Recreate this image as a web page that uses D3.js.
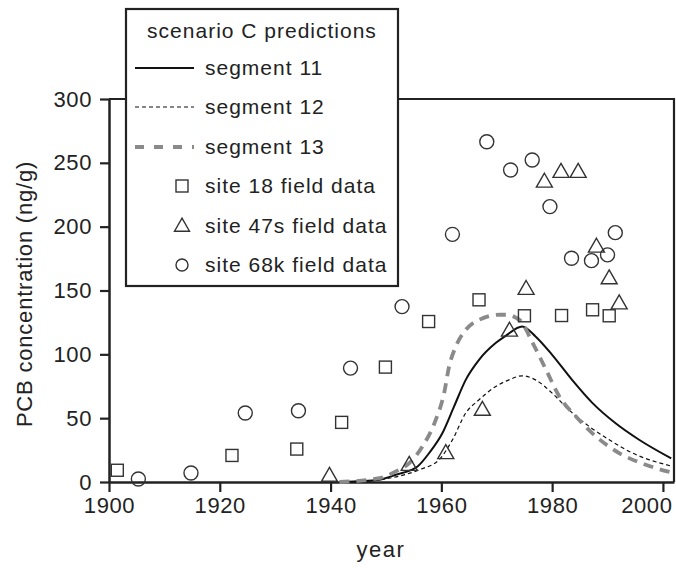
<!DOCTYPE html>
<meta charset="utf-8" />
<script src="https://d3js.org/d3.v7.min.js"></script>
<style>
	body { margin: 0; background: #fff; }
	text { font-family: "Liberation Sans", Arial, sans-serif; fill: #222; }
</style>
<div id="chart"></div>
<script>
	// ---- data ----
	var xTicks = [1900, 1920, 1940, 1960, 1980, 2000];
	var yTicks = [0, 50, 100, 150, 200, 250, 300];

	// model predictions: [year, ng/g]
	var seg11 = [[1942, 0], [1948.8, 1.8], [1951.8, 5.7], [1955.7, 12.2], [1957.8, 22.7], [1960.2, 38.4],
		[1962.3, 59.2], [1964.4, 80], [1966.8, 95.7], [1969.8, 108.8], [1971.6, 114.5], [1974.6, 121.8],
		[1977, 114], [1980, 99.6], [1983.6, 80], [1987.3, 61.8], [1991.4, 46.2], [1995.7, 33.1], [2001.5, 18.5]];
	var seg12 = [[1944, 0], [1950, 2.5], [1956, 9.6], [1959.6, 17.5], [1962, 33], [1964.4, 54], [1966.8, 64.4],
		[1969.8, 74.8], [1972.2, 80], [1974.6, 83.2], [1977, 80], [1980, 69.6], [1983, 56.6],
		[1986.7, 43.5], [1990.3, 33.1], [1994.5, 22.7], [2001.5, 12.5]];
	var seg13 = [[1941.6, 0], [1948.8, 3], [1951.8, 8.3], [1954.2, 14.8], [1956.6, 27.9], [1959, 48.8],
		[1960.5, 69.6], [1961.4, 90.5], [1962.6, 106], [1964.4, 119.2], [1966.8, 127], [1970.5, 131],
		[1971.6, 131], [1974.1, 127], [1976.5, 108.8], [1978.9, 87.9], [1981.3, 67], [1984.3, 51.3],
		[1987.9, 35.7], [1992.1, 22.7], [1996.9, 13.5], [2001.5, 7.5]];

	// field data: [year, ng/g]
	var site18 = [[1901.5, 9.2], [1922.2, 20.8], [1933.9, 25.8], [1942, 46.7], [1949.9, 90], [1957.7, 125.7],
		[1966.8, 142.7], [1975, 130.2], [1981.7, 130.4], [1987.3, 134.9], [1990.3, 130.2]];
	var site47s = [[1939.8, 4.9], [1954.2, 13.5], [1960.8, 22.7], [1967.4, 56.6], [1972.3, 118.6], [1975.3, 151.3],
		[1978.6, 235.3], [1981.6, 243], [1984.7, 243], [1988, 184.4], [1990.3, 159.6], [1992.1, 140]];
	var site68k = [[1905.3, 2.3], [1914.8, 7], [1924.6, 54], [1934.2, 55.8], [1943.6, 89.2], [1952.9, 137.4],
		[1962, 194], [1968.2, 266.5], [1972.5, 244.4], [1976.4, 252.2], [1979.6, 215.7], [1983.5, 175.3],
		[1987.1, 173.4], [1990, 177.9], [1991.4, 195.3]];

	var legendTitle = "scenario C predictions";
	var legendItems = ["segment 11", "segment 12", "segment 13",
		"site 18 field data", "site 47s field data", "site 68k field data"];

	// ---- layout ----
	var W = 676, H = 568;
	var margin = { top: 99, right: 2, bottom: 86, left: 109 },
		width = W - margin.left - margin.right,
		height = H - margin.top - margin.bottom;

	var root = d3.select("#chart").append("svg")
		.attr("width", W)
		.attr("height", H);

	var svg = root.append("g")
		.attr("transform", "translate(" + margin.left + "," + margin.top + ")");

	var x = d3.scaleLinear().domain([1900, 2002]).range([0, width]);
	var y = d3.scaleLinear().domain([0, 300]).range([height, 0]);

	var ink = "#222";

	// frame (top + right)
	svg.append("path")
		.attr("d", "M0,0H" + width + "V" + height)
		.attr("fill", "none")
		.attr("stroke", ink)
		.attr("stroke-width", 2.2);

	// axes
	var xAxis = svg.append("g")
		.attr("transform", "translate(0," + height + ")")
		.call(d3.axisBottom(x).tickValues(xTicks).tickFormat(d3.format("d")).tickSize(10).tickSizeOuter(0).tickPadding(5));
	var yAxis = svg.append("g")
		.call(d3.axisLeft(y).tickValues(yTicks).tickSize(9).tickSizeOuter(0).tickPadding(8));

	[xAxis, yAxis].forEach(function (a) {
		a.select(".domain").attr("stroke", ink).attr("stroke-width", 2.5);
		a.selectAll(".tick line").attr("stroke", ink).attr("stroke-width", 2.2);
		a.selectAll(".tick text")
			.style("font-family", '"Liberation Sans", Arial, sans-serif')
			.style("font-size", "22px")
			.style("letter-spacing", "0.6px")
			.attr("fill", ink);
	});

	// last year label sits inside the frame edge
	xAxis.selectAll(".tick text")
		.filter(d => d === 2000)
		.attr("text-anchor", "end")
		.attr("x", width - 2 - x(2000));

	// axis labels
	root.append("text")
		.attr("x", 381)
		.attr("y", 557)
		.attr("text-anchor", "middle")
		.style("font-size", "22px")
		.style("letter-spacing", "1.5px")
		.text("year");

	root.append("text")
		.attr("transform", "translate(32," + 294 + ") rotate(-90)")
		.attr("text-anchor", "middle")
		.style("font-size", "22px")
		.style("letter-spacing", "0.8px")
		.text("PCB concentration (ng/g)");

	// curves
	var line = d3.line()
		.x(d => x(d[0]))
		.y(d => y(d[1]))
		.curve(d3.curveMonotoneX);

	var lineStyles = [
		{ data: seg11, stroke: "#111", width: 2, dash: null },
		{ data: seg12, stroke: "#111", width: 1.2, dash: "4,3" },
		{ data: seg13, stroke: "#8a8a8a", width: 3.8, dash: "10,7" }
	];

	lineStyles.forEach(function (s) {
		svg.append("path")
			.datum(s.data)
			.attr("d", line)
			.attr("fill", "none")
			.attr("stroke", s.stroke)
			.attr("stroke-width", s.width)
			.attr("stroke-dasharray", s.dash);
	});

	// markers
	var mStroke = "#333";
	function square(g, cx, cy, s) {
		g.append("rect")
			.attr("x", cx - s / 2).attr("y", cy - s / 2)
			.attr("width", s).attr("height", s)
			.attr("fill", "none").attr("stroke", mStroke).attr("stroke-width", 1.4);
	}
	function triangle(g, cx, cy, s) {
		var h = s * 0.87;
		g.append("path")
			.attr("d", "M" + cx + "," + (cy - h * 0.6) + "L" + (cx + s / 2) + "," + (cy + h * 0.4) + "L" + (cx - s / 2) + "," + (cy + h * 0.4) + "Z")
			.attr("fill", "none").attr("stroke", mStroke).attr("stroke-width", 1.4);
	}
	function circle(g, cx, cy, s) {
		g.append("circle")
			.attr("cx", cx).attr("cy", cy).attr("r", s / 2)
			.attr("fill", "none").attr("stroke", mStroke).attr("stroke-width", 1.4);
	}

	var pts = svg.append("g");
	site18.forEach(d => square(pts, x(d[0]), y(d[1]), 12));
	site47s.forEach(d => triangle(pts, x(d[0]), y(d[1]), 16));
	site68k.forEach(d => circle(pts, x(d[0]), y(d[1]), 14));

	// legend
	var lg = root.append("g");
	lg.append("rect")
		.attr("x", 126).attr("y", 9)
		.attr("width", 272).attr("height", 277)
		.attr("fill", "#fff")
		.attr("stroke", ink)
		.attr("stroke-width", 2.2);

	lg.append("text")
		.attr("x", 262).attr("y", 31)
		.attr("text-anchor", "middle")
		.attr("dy", "0.35em")
		.style("font-size", "21px")
		.style("letter-spacing", "1px")
		.text(legendTitle);

	var rowY = [68, 107, 147, 186, 226, 265];
	legendItems.forEach(function (name, i) {
		var ry = rowY[i];
		if (i < 3) {
			var s = lineStyles[i];
			lg.append("line")
				.attr("x1", 135).attr("x2", 194)
				.attr("y1", ry).attr("y2", ry)
				.attr("stroke", s.stroke)
				.attr("stroke-width", s.width)
				.attr("stroke-dasharray", i === 2 ? "9,10" : s.dash);
		} else if (i === 3) {
			square(lg, 182, ry, 12);
		} else if (i === 4) {
			triangle(lg, 182, ry, 15);
		} else {
			circle(lg, 182, ry, 12);
		}
		lg.append("text")
			.attr("x", 205).attr("y", ry)
			.attr("dy", "0.35em")
			.style("font-size", "21px")
			.style("letter-spacing", "1px")
			.text(name);
	});
</script>
